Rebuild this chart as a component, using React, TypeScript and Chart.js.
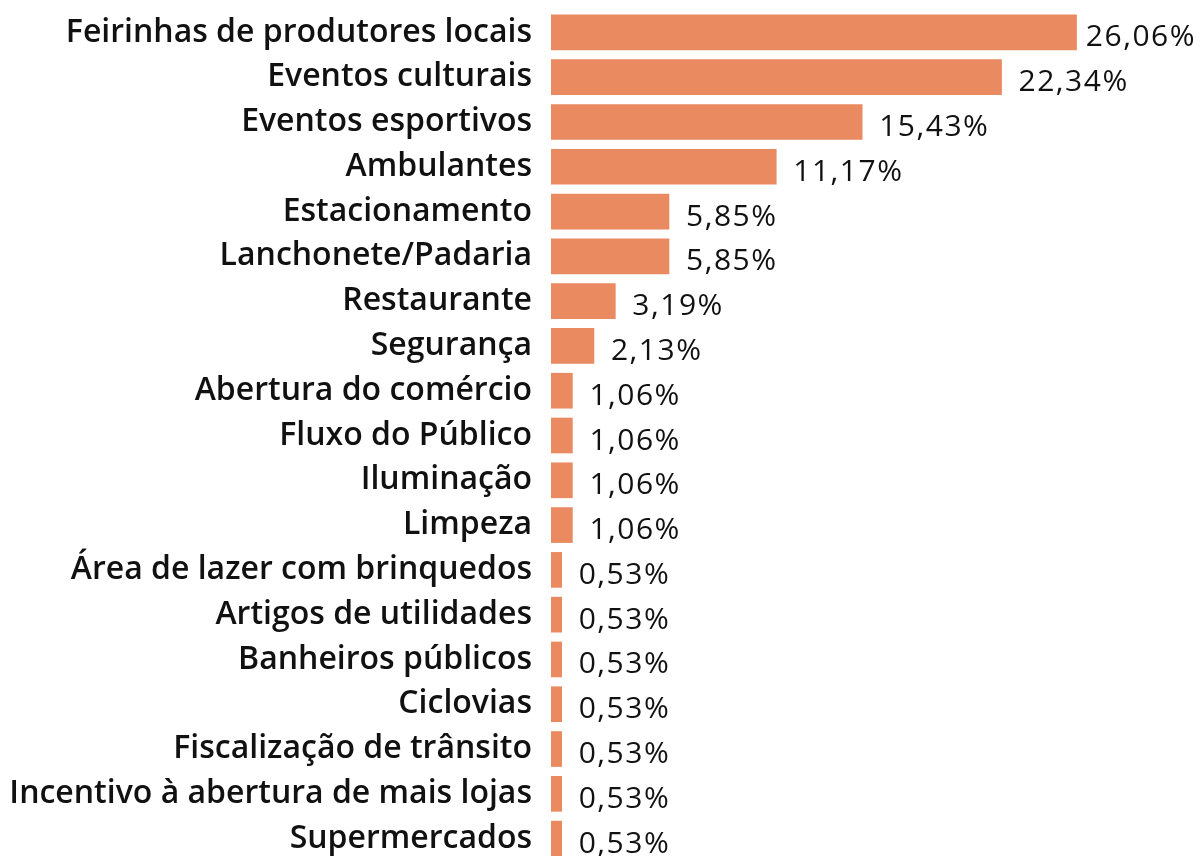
import React, { useEffect, useRef } from "react";
import { Chart, registerables } from "chart.js";

Chart.register(...registerables);

const categories = [
  "Feirinhas de produtores locais",
  "Eventos culturais",
  "Eventos esportivos",
  "Ambulantes",
  "Estacionamento",
  "Lanchonete/Padaria",
  "Restaurante",
  "Segurança",
  "Abertura do comércio",
  "Fluxo do Público",
  "Iluminação",
  "Limpeza",
  "Área de lazer com brinquedos",
  "Artigos de utilidades",
  "Banheiros públicos",
  "Ciclovias",
  "Fiscalização de trânsito",
  "Incentivo à abertura de mais lojas",
  "Supermercados",
];

const values = [
  26.06, 22.34, 15.43, 11.17, 5.85, 5.85, 3.19, 2.13, 1.06, 1.06, 1.06, 1.06,
  0.53, 0.53, 0.53, 0.53, 0.53, 0.53, 0.53,
];

const valueLabels = values.map((v) => v.toFixed(2).replace(".", ",") + "%");

const FONT = "'Open Sans', 'Noto Sans', sans-serif";

const valueLabelPlugin = {
  id: "valueLabels",
  afterDatasetsDraw(chart: any) {
    const ctx = chart.ctx;
    const meta = chart.getDatasetMeta(0);
    ctx.save();
    ctx.font = `400 30px ${FONT}`;
    try {
      (ctx as any).letterSpacing = "1.5px";
    } catch (e) {}
    ctx.fillStyle = "#111111";
    ctx.textAlign = "left";
    ctx.textBaseline = "alphabetic";
    meta.data.forEach((bar: any, i: number) => {
      const w = ctx.measureText(valueLabels[i]).width;
      const x = Math.min(bar.x + 17, chart.width - 4 - w);
      ctx.fillText(valueLabels[i], x, bar.y + 14);
    });
    ctx.restore();
  },
};

export default function App() {
  const canvasRef = useRef<HTMLCanvasElement | null>(null);

  useEffect(() => {
    if (!canvasRef.current) return;
    const chart = new Chart(canvasRef.current, {
      type: "bar",
      data: {
        labels: categories,
        datasets: [
          {
            data: values,
            backgroundColor: "#EA8A60",
            borderWidth: 0,
            barThickness: 35,
          },
        ],
      },
      options: {
        indexAxis: "y",
        animation: false,
        responsive: true,
        maintainAspectRatio: false,
        layout: { padding: { top: 10, right: 44, bottom: 0, left: 0 } },
        plugins: {
          legend: { display: false },
          tooltip: { enabled: false },
        },
        scales: {
          x: {
            display: false,
            min: 0,
            max: 30,
          },
          y: {
            grid: { display: false, drawTicks: false },
            border: { display: false },
            afterFit: (scale: any) => {
              scale.width = 551;
              scale.paddingTop = 0;
              scale.paddingBottom = 0;
            },
            ticks: {
              padding: 19,
              color: "#111111",
              font: { family: FONT, size: 32, weight: "600" },
              autoSkip: false,
            },
          },
        },
      },
      plugins: [valueLabelPlugin],
    });
    return () => chart.destroy();
  }, []);

  return (
    <div
      style={{
        position: "fixed",
        left: 0,
        top: 0,
        width: 1200,
        height: 861,
        background: "#ffffff",
      }}
    >
      <canvas ref={canvasRef} />
    </div>
  );
}
